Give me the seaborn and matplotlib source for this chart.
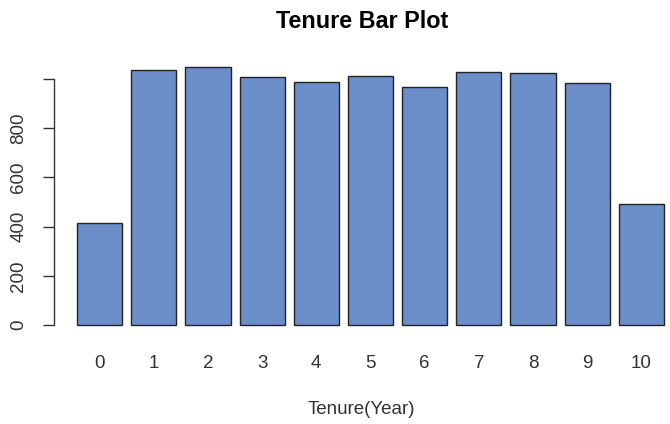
import pandas as pd
import seaborn as sns
import matplotlib.pyplot as plt

tenure = [str(i) for i in range(11)]
counts = [413, 1035, 1048, 1009, 989, 1012, 967, 1028, 1025, 984, 490]
yticks = [0, 200, 400, 600, 800, 1000]
ytick_labels = ["0", "200", "400", "600", "800", ""]

df = pd.DataFrame({"Tenure": tenure, "Count": counts})

sns.set_style("white")
plt.rcParams['font.family'] = ['Liberation Sans', 'DejaVu Sans']

fig = plt.figure(figsize=(6.7, 4.24), dpi=100)
ax = fig.add_axes([0.08, 0.209, 0.92, 0.657])

sns.barplot(data=df, x="Tenure", y="Count", color="#6B8EC9", saturation=1,
            width=0.833, edgecolor="#222222", linewidth=1.0, ax=ax)

ax.set_xlim(-0.85, 10.53)
ax.set_ylim(-41.9, 1089.9)

for s in ["top", "right", "bottom"]:
    ax.spines[s].set_visible(False)
ax.spines["left"].set_bounds(0, 1000)
ax.spines["left"].set_color("#333333")
ax.spines["left"].set_linewidth(1.0)

ax.set_yticks(yticks)
ax.set_yticklabels(ytick_labels, rotation=90, va="center", fontsize=13.5, color="#333333")
ax.tick_params(axis="y", length=8, width=1, color="#333333", pad=11, left=True)
ax.tick_params(axis="x", length=0, pad=14, labelsize=13.5, labelcolor="#333333")

ax.set_xlabel("Tenure(Year)", fontsize=13.5, color="#333333", labelpad=21)
ax.set_ylabel("")
ax.set_title("Tenure Bar Plot", fontsize=16.8, fontweight="bold", color="black", pad=21)

fig.savefig("out.png", dpi=100)
